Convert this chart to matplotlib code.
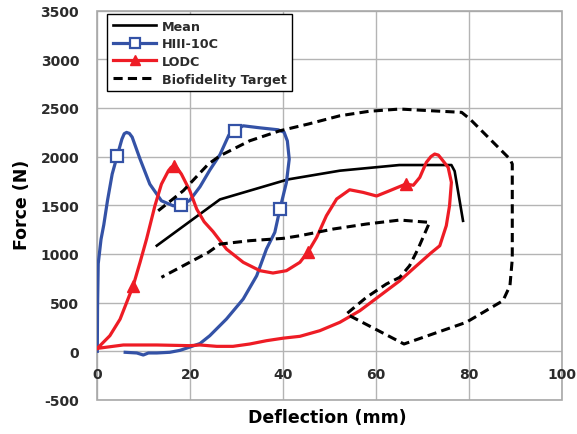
import matplotlib
matplotlib.use("Agg")
import matplotlib.pyplot as plt
from matplotlib.patches import Rectangle

# ---- data ---------------------------------------------------------------
x_ticks = [0, 20, 40, 60, 80, 100]
y_ticks = [-500, 0, 500, 1000, 1500, 2000, 2500, 3000, 3500]

mean_x = [12.8, 26.4, 41.0, 52.2, 65.0, 76.2, 76.9, 78.7]
mean_f = [1085, 1560, 1765, 1855, 1913, 1913, 1850, 1340]

hiii_x = [0.0, 0.05, 0.2, 0.8, 1.4, 2.2, 3.2, 4.3, 5.3, 5.8, 6.3, 6.9, 7.5,
          9.2, 11.3, 13.8, 16.3, 18.1, 19.9, 22.1, 24.2, 26.4, 28.3, 29.6,
          31.4, 35.0, 38.9, 40.2, 40.9, 41.3, 40.7, 39.3, 38.2, 36.4, 34.3,
          31.4, 27.8, 24.2, 22.1, 20.0, 17.8, 15.6, 12.8, 11.0, 9.9, 8.5, 6.0]
hiii_f = [0, 450, 900, 1150, 1300, 1550, 1820, 2010, 2180, 2235, 2248, 2238,
          2200, 1974, 1717, 1546, 1495, 1502, 1550, 1690, 1860, 2020, 2220,
          2265, 2316, 2295, 2275, 2250, 2160, 1974, 1735, 1461, 1222, 1050,
          776, 537, 332, 160, 80, 45, 10, -10, -17, -17, -38, -17, -10]
hiii_marks = [7, 17, 23, 31]

lodc_x = [0.0, 2.7, 4.9, 6.3, 7.7, 9.2, 10.6, 12.4, 13.8, 15.3, 15.9, 16.5,
          17.2, 18.1, 19.9, 21.4, 23.0, 24.9, 27.8, 31.4, 35.0, 37.8, 40.7,
          43.6, 45.4, 47.2, 49.3, 51.5, 54.3, 57.2, 60.1, 62.9, 66.4, 68.0,
          69.4, 70.8, 71.8, 72.6, 73.4, 74.1, 75.5, 76.2, 75.8, 75.1, 73.7,
          71.8, 68.7, 65.1, 60.8, 56.5, 52.2, 47.9, 43.6, 40.0, 36.4, 32.8,
          29.2, 25.7, 22.1, 19.9, 12.8, 5.6, 0.0]
lodc_f = [30, 160, 330, 500, 670, 914, 1153, 1495, 1717, 1854, 1890, 1905,
          1880, 1820, 1650, 1460, 1330, 1230, 1050, 914, 828, 804, 828, 914,
          1025, 1170, 1392, 1564, 1659, 1632, 1595, 1649, 1718, 1705, 1786,
          1940, 2000, 2026, 2015, 1974, 1889, 1735, 1495, 1290, 1084, 1010,
          879, 725, 571, 417, 298, 212, 154, 135, 109, 75, 51, 51, 65, 58, 65,
          65, 30]
lodc_marks = [4, 11, 24, 32]

target_x = [13.1, 18.5, 23.9, 26.4, 32.8, 39.3, 45.4, 52.2, 58.5, 65.1, 72.0,
            78.4, 80.2, 88.8, 89.3, 89.3, 88.8, 87.3, 79.4, 66.0, 53.6, 57.9,
            62.2, 65.1, 67.2, 69.0, 71.5, 65.1, 57.9, 50.8, 43.6, 40.0, 32.8,
            26.4, 23.9, 18.5, 13.8]
target_f = [1443, 1649, 1923, 2008, 2162, 2265, 2334, 2419, 2465, 2488, 2470,
            2454, 2385, 1974, 1923, 948, 674, 520, 298, 75, 383, 554, 691, 760,
            879, 1050, 1324, 1348, 1307, 1256, 1187, 1160, 1136, 1101, 1016,
            879, 760]

# ---- figure -------------------------------------------------------------
W, H = 577, 435
fig = plt.figure(figsize=(W / 100, H / 100), dpi=100)
left, right, top, bottom = 97.3, 562.0, 11.5, 401.0
ax = fig.add_axes([left / W, 1 - bottom / H, (right - left) / W, (bottom - top) / H])

FONT = "DejaVu Sans"
TXT = "#2b2b2b"
BLUE = "#3452a6"
RED = "#ee1c25"

ax.plot(mean_x, mean_f, color="black", lw=1.9, label="Mean", zorder=3,
        solid_joinstyle="round")
ax.plot(hiii_x, hiii_f, color=BLUE, lw=2.3, marker="s", markevery=hiii_marks,
        markersize=8.5, markerfacecolor="white", markeredgecolor=BLUE,
        markeredgewidth=1.6, label="HIII-10C", zorder=4,
        solid_joinstyle="round")
ax.plot(lodc_x, lodc_f, color=RED, lw=2.3, marker="^", markevery=lodc_marks,
        markersize=8.5, markerfacecolor=RED, markeredgecolor=RED,
        label="LODC", zorder=5, solid_joinstyle="round")
ax.plot(target_x, target_f, color="black", lw=2.2, linestyle=(0, (3.0, 1.7)),
        label="Biofidelity Target", zorder=6)

ax.set_xlim(0, 100)
ax.set_ylim(-500, 3500)
ax.set_xticks(x_ticks)
ax.set_yticks(y_ticks)
ax.grid(True, color="#b4b4b4", lw=1.0, zorder=0)
ax.set_axisbelow(True)
for s in ax.spines.values():
    s.set_visible(False)
ax.add_patch(Rectangle((0, 0), 1, 1, transform=ax.transAxes, fill=False,
                       edgecolor="#a8a8a8", lw=1.2, clip_on=False, zorder=1))

ax.tick_params(axis="both", length=0)
ax.tick_params(axis="y", pad=13)
ax.set_yticklabels([str(v) for v in y_ticks], fontfamily=FONT,
                   fontweight="bold", fontsize=10, color=TXT)
ax.set_xticklabels([])
for v in x_ticks:
    ax.annotate(str(v), xy=(v, 0), xytext=(0, -23), textcoords="offset pixels",
                ha="center", va="center", fontfamily=FONT, fontweight="bold",
                fontsize=10, color=TXT, annotation_clip=False)

fig.text(22 / W, 1 - 205 / H, "Force (N)", rotation=90, ha="center",
         va="center", fontfamily=FONT, fontweight="bold", fontsize=12.5,
         color="black")
fig.text(327 / W, 1 - 418 / H, "Deflection (mm)", ha="center", va="center",
         fontfamily=FONT, fontweight="bold", fontsize=12.5, color="black")

leg = ax.legend(loc="upper left", bbox_to_anchor=((107.3 - left) / (right - left),
                                                  (bottom - 15) / (bottom - top)),
                borderaxespad=0, frameon=True, fancybox=False,
                prop={"family": FONT, "weight": "bold", "size": 9.2},
                handlelength=3.4, handletextpad=0.4, labelspacing=0.36,
                borderpad=0.45, markerscale=0.85)
leg.get_frame().set_edgecolor("black")
leg.get_frame().set_linewidth(1.0)
leg.get_frame().set_alpha(1)
for t in leg.get_texts():
    t.set_color(TXT)

fig.savefig("out.png", dpi=100)
